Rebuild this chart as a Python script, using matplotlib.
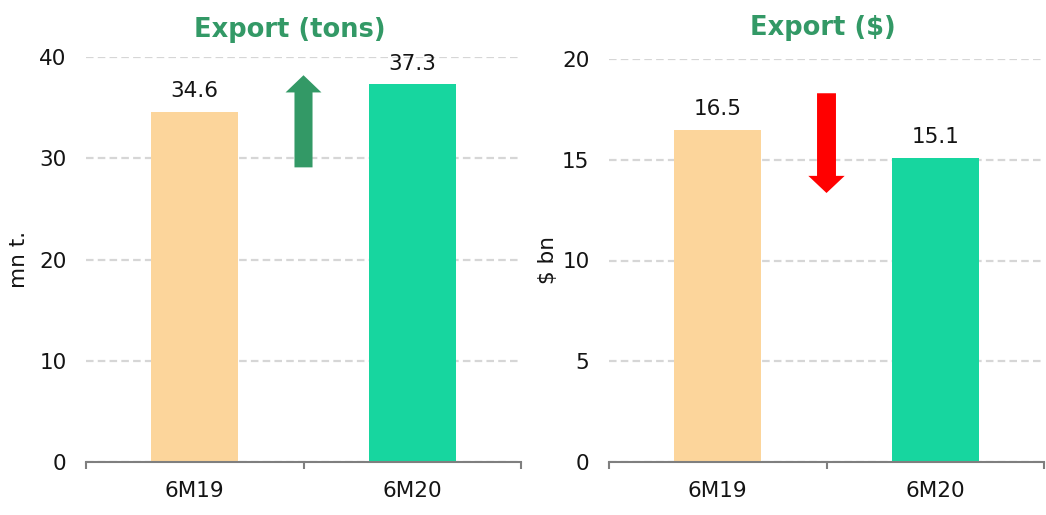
import matplotlib.pyplot as plt

# Export volumes and values, first half of 2019 vs 2020
periods = ["6M19", "6M20"]
export_tons = [34.6, 37.3]      # mn t.
export_usd = [16.5, 15.1]       # $ bn

# trend arrows: (start, end) on each value axis
tons_arrow = (29.1, 38.2)
usd_arrow = (18.3, 13.35)

bar_colors = ["#FCD59B", "#17D69F"]
title_green = "#339966"

plt.rcParams['font.family'] = ['DejaVu Sans']

fig = plt.figure(figsize=(10.46, 5.15), dpi=100)
ax1 = fig.add_axes([86 / 1046, 53 / 515, 435 / 1046, 405 / 515])
ax2 = fig.add_axes([609 / 1046, 53 / 515, 435 / 1046, 403 / 515])


def draw_panel(ax, values, ymax, step, ylabel, labelpad):
    x = range(len(values))
    ax.bar(x, values, width=0.4, color=bar_colors, zorder=2)
    for xi, v in zip(x, values):
        ax.annotate(f"{v:.1f}", (xi, v), xytext=(0, 10.5), textcoords="offset points",
                    ha="center", va="baseline", fontsize=15.5, color="#141414")
    ax.set_xlim(-0.5, len(values) - 0.5)
    ax.set_ylim(0, ymax)
    ax.set_yticks(range(0, ymax + 1, step))
    ax.set_xticks(list(x))
    ax.set_xticklabels(periods)
    # category separators on the x axis
    ax.set_xticks([-0.5, 0.5, 1.5], minor=True)
    ax.tick_params(axis="x", which="major", length=0, labelsize=15.5, pad=13.5, colors="#141414")
    ax.tick_params(axis="x", which="minor", length=5, width=1.5, color="#7f7f7f")
    ax.tick_params(axis="y", length=0, labelsize=15.5, pad=14, colors="#141414")
    for s in ["left", "right", "top"]:
        ax.spines[s].set_visible(False)
    ax.spines["bottom"].set_color("#7f7f7f")
    ax.spines["bottom"].set_linewidth(1.5)
    ax.yaxis.grid(True, color="#d6d6d6", linewidth=1.6, linestyle=(0, (3.4, 1.9)), zorder=0)
    ax.set_axisbelow(True)
    ax.set_ylabel(ylabel, fontsize=15.5, labelpad=labelpad, color="#141414")


draw_panel(ax1, export_tons, 40, 10, "mn t.", 7)
draw_panel(ax2, export_usd, 20, 5, "$ bn", 3)

# up / down arrows between the bars
ax1.arrow(0.5, tons_arrow[0], 0, tons_arrow[1] - tons_arrow[0], width=0.083,
          head_width=0.165, head_length=1.7, length_includes_head=True,
          color=title_green, linewidth=0, zorder=3)
ax2.arrow(0.5, usd_arrow[0], 0, usd_arrow[1] - usd_arrow[0], width=0.087,
          head_width=0.167, head_length=0.85, length_includes_head=True,
          color="#ff0000", linewidth=0, zorder=3)

fig.text(290 / 1046, 1 - 30 / 515, "Export (tons)", ha="center", va="center",
         fontsize=18.5, fontweight="bold", color=title_green)
fig.text(823 / 1046, 1 - 28 / 515, "Export ($)", ha="center", va="center",
         fontsize=18.5, fontweight="bold", color=title_green)

fig.savefig("out.png", dpi=100)
